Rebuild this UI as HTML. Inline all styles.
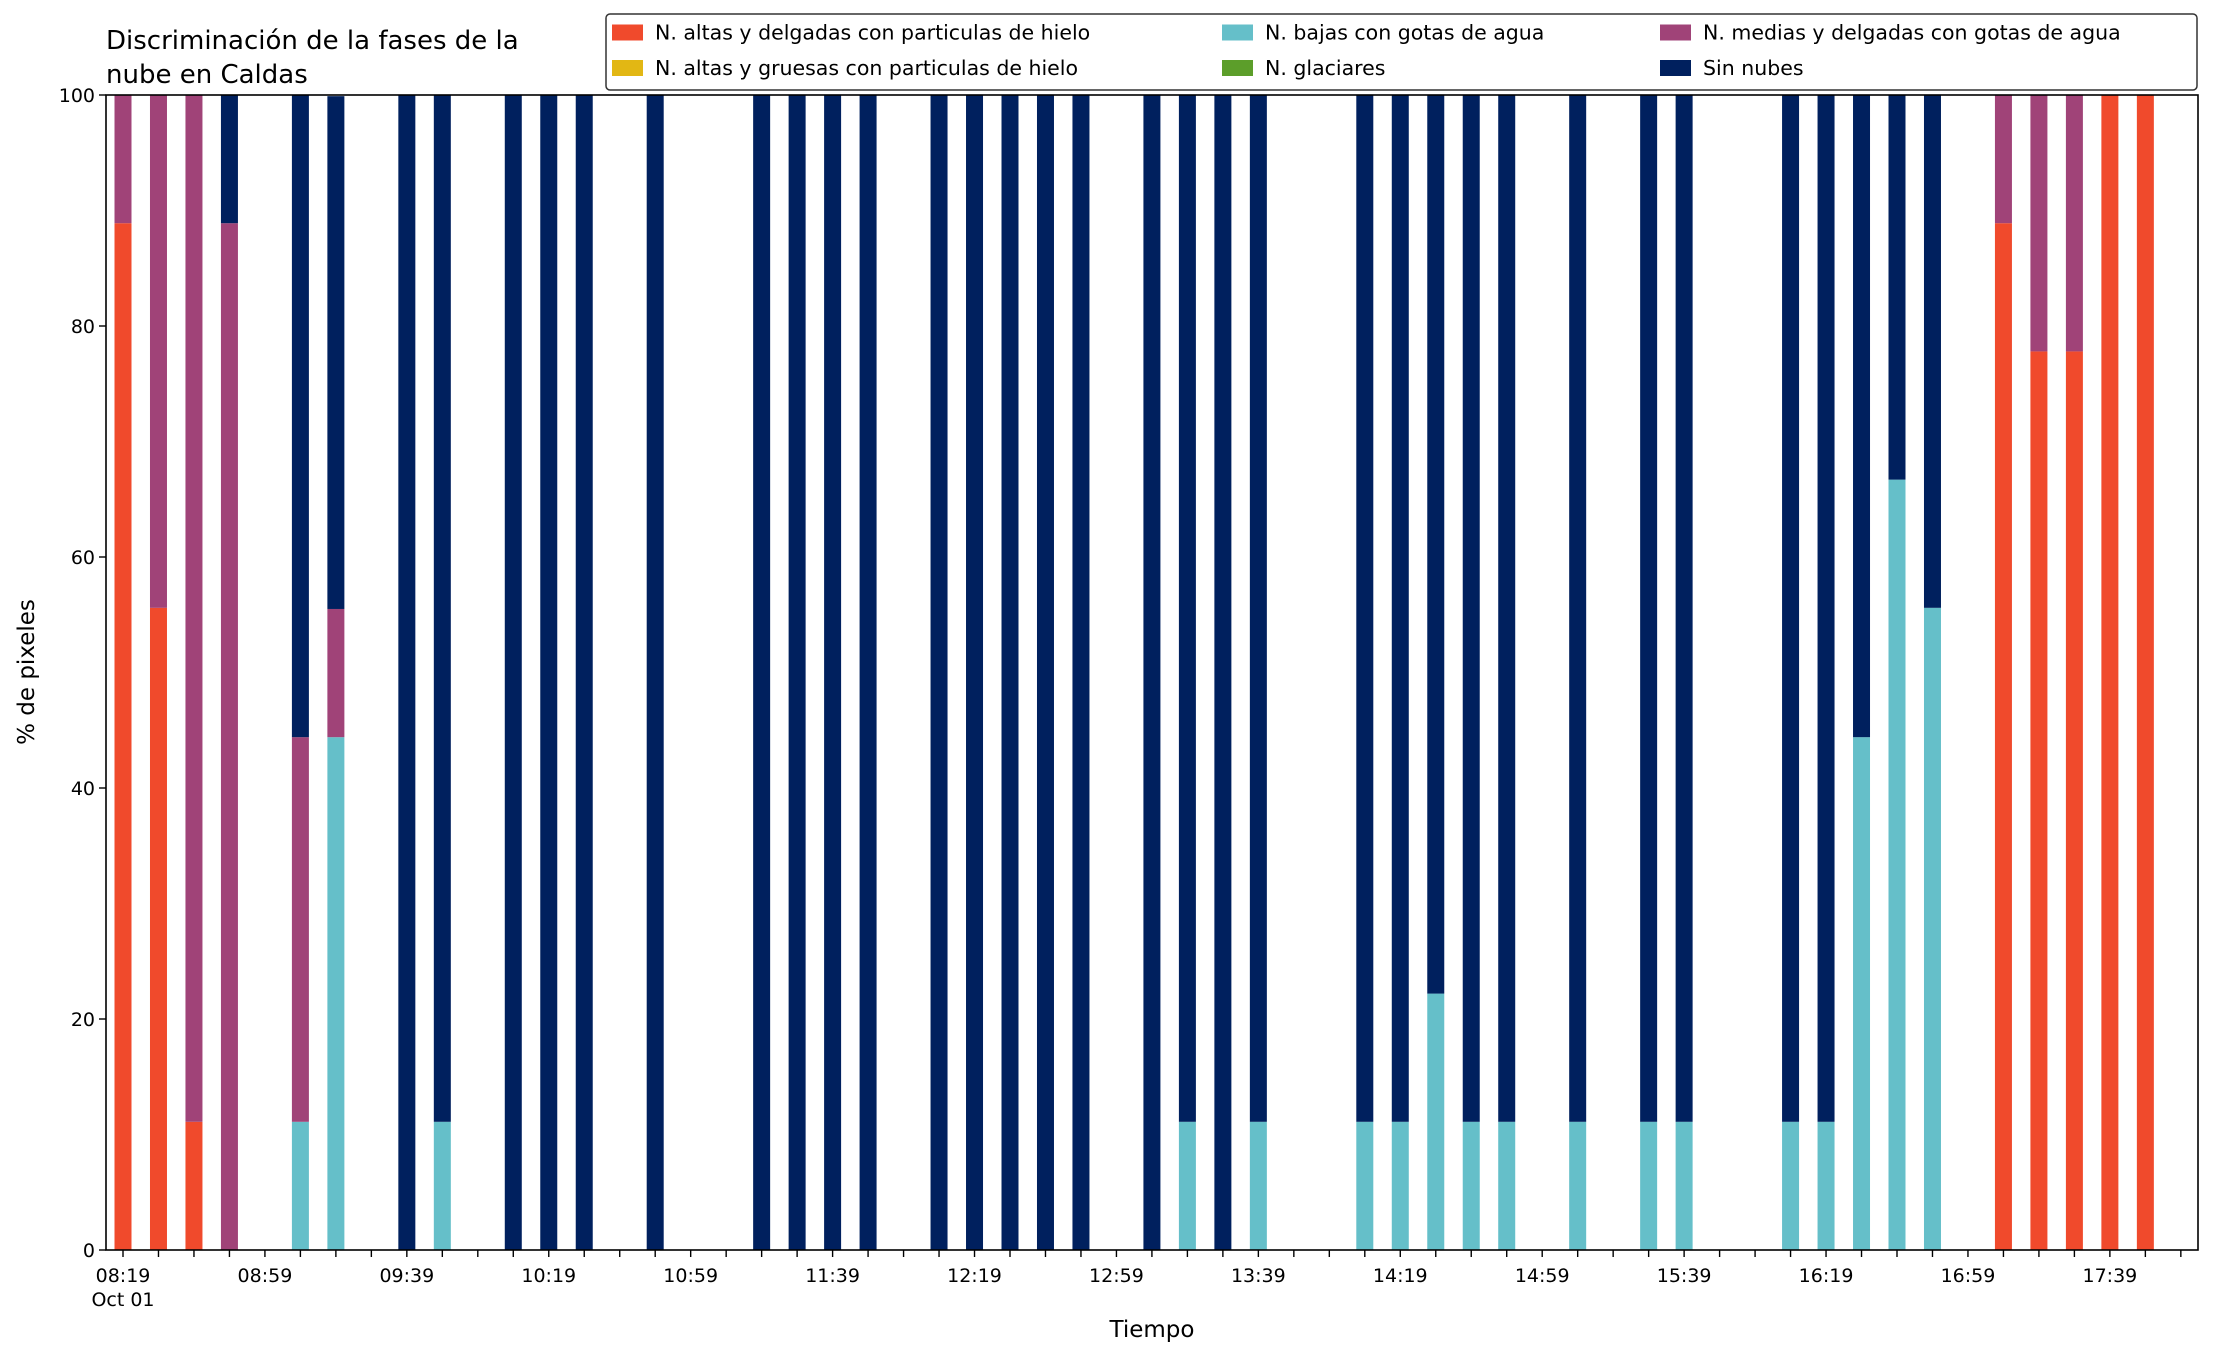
<!DOCTYPE html>
<html><head><meta charset="utf-8"><style>
html,body{margin:0;padding:0;background:#fff;}
svg{display:block;font-family:"DejaVu Sans","Liberation Sans",sans-serif;}
</style></head><body>
<svg id="chart" width="2216" height="1355" viewBox="0 0 2216 1355" xmlns="http://www.w3.org/2000/svg">
<rect width="2216" height="1355" fill="#fff"/>
<text x="106" y="49" font-size="26">Discriminación de la fases de la</text>
<text x="106" y="83" font-size="26">nube en Caldas</text>
<g id="bars"></g>
<g id="axes"></g>
<text x="1152" y="1337" font-size="23" text-anchor="middle">Tiempo</text>
<text x="34" y="672" font-size="23" text-anchor="middle" transform="rotate(-90 34 672)">% de pixeles</text>
<g id="legend"></g>
</svg>
<script>
// Bar slots: index in 10-minute steps from 08:19
const slots = [0,1,2,3,5,6,8,9,11,12,13,15,18,19,20,21,23,24,25,26,27,29,30,31,32,35,36,37,38,39,41,43,44,47,48,49,50,51,53,54,55,56,57];
const seriesNames = ["N. altas y delgadas con particulas de hielo","N. altas y gruesas con particulas de hielo","N. bajas con gotas de agua","N. glaciares","N. medias y delgadas con gotas de agua","Sin nubes"];
const seriesColors = ["#F04A2C","#E2B714","#65BFC9","#5C9E2A","#A04378","#00205E"];
const altasDelgadas = [88.9,55.6,11.1,0,0,0,0,0,0,0,0,0,0,0,0,0,0,0,0,0,0,0,0,0,0,0,0,0,0,0,0,0,0,0,0,0,0,0,88.9,77.8,77.8,100,100];
const altasGruesas  = [0,0,0,0,0,0,0,0,0,0,0,0,0,0,0,0,0,0,0,0,0,0,0,0,0,0,0,0,0,0,0,0,0,0,0,0,0,0,0,0,0,0,0];
const bajasAgua     = [0,0,0,0,11.1,44.4,0,11.1,0,0,0,0,0,0,0,0,0,0,0,0,0,0,11.1,0,11.1,11.1,11.1,22.2,11.1,11.1,11.1,11.1,11.1,11.1,11.1,44.4,66.7,55.6,0,0,0,0,0];
const glaciares     = [0,0,0,0,0,0,0,0,0,0,0,0,0,0,0,0,0,0,0,0,0,0,0,0,0,0,0,0,0,0,0,0,0,0,0,0,0,0,0,0,0,0,0];
const mediasAgua    = [11.1,44.4,88.9,88.9,33.3,11.1,0,0,0,0,0,0,0,0,0,0,0,0,0,0,0,0,0,0,0,0,0,0,0,0,0,0,0,0,0,0,0,0,11.1,22.2,22.2,0,0];
const sinNubes      = [0,0,0,11.1,55.6,44.4,100,88.9,100,100,100,100,100,100,100,100,100,100,100,100,100,100,88.9,100,88.9,88.9,88.9,77.8,88.9,88.9,88.9,88.9,88.9,88.9,88.9,55.6,33.3,44.4,0,0,0,0,0];
const yTicks = [0,20,40,60,80,100];
const xTickLabels = ["08:19","08:59","09:39","10:19","10:59","11:39","12:19","12:59","13:39","14:19","14:59","15:39","16:19","16:59","17:39"];

const NS="http://www.w3.org/2000/svg";
const L=106,R=2198,T=95,B=1250;
const x0=123, pxPerSlot=35.48;
function xs(slot){return x0+slot*pxPerSlot;}
function ys(v){return B-(v/100)*(B-T);}
function mk(tag,attrs,parent){const e=document.createElementNS(NS,tag);for(const k in attrs)e.setAttribute(k,attrs[k]);parent.appendChild(e);return e;}

const series=[altasDelgadas,altasGruesas,bajasAgua,glaciares,mediasAgua,sinNubes];
const gb=document.getElementById('bars');
const bw=17;
slots.forEach((s,i)=>{
  let acc=0;
  series.forEach((arr,k)=>{
    const v=arr[i];
    if(v>0){
      const r=mk('rect',{x:xs(s)-bw/2,y:ys(acc+v),width:bw,height:ys(acc)-ys(acc+v),fill:seriesColors[k]},gb);
      
      
    }
    acc+=v;
  });
});

const ga=document.getElementById('axes');
const frame=mk('rect',{x:L,y:T,width:R-L,height:B-T,fill:'none',stroke:'#000','stroke-width':1.6},ga);


yTicks.forEach(v=>{
  const y=ys(v);
  mk('line',{x1:L-7,x2:L,y1:y,y2:y,stroke:'#000','stroke-width':1.4},ga);
  const t=mk('text',{x:L-11,y:y+7,'font-size':19,'text-anchor':'end'},ga);
  t.textContent=v;
  
  
});
for(let s=0;s<=58;s++){
  const x=xs(s);
  if(x>R)break;
  mk('line',{x1:x,x2:x,y1:B,y2:B+7,stroke:'#000','stroke-width':1.4},ga);
}
xTickLabels.forEach((lab,i)=>{
  const x=xs(i*4);
  const t=mk('text',{x:x,y:1282,'font-size':19,'text-anchor':'middle'},ga);
  t.textContent=lab;
  
  
});
const od=mk('text',{x:xs(0),y:1306,'font-size':19,'text-anchor':'middle'},ga);
od.textContent='Oct 01';



const gl=document.getElementById('legend');
const lb=mk('rect',{x:606,y:14,width:1591,height:76,rx:4,fill:'#fff',stroke:'#333','stroke-width':1.5},gl);


const colX=[612,1222,1660], rowY=[32.5,68];
seriesNames.forEach((n,k)=>{
  const col=Math.floor(k/2), row=k%2;
  const p=mk('rect',{x:colX[col],y:rowY[row]-8,width:31,height:16,fill:seriesColors[k]},gl);
  
  
  const t=mk('text',{x:colX[col]+43,y:rowY[row]+7,'font-size':20.5},gl);
  t.textContent=n;
  
  
});
</script>
</body></html>
